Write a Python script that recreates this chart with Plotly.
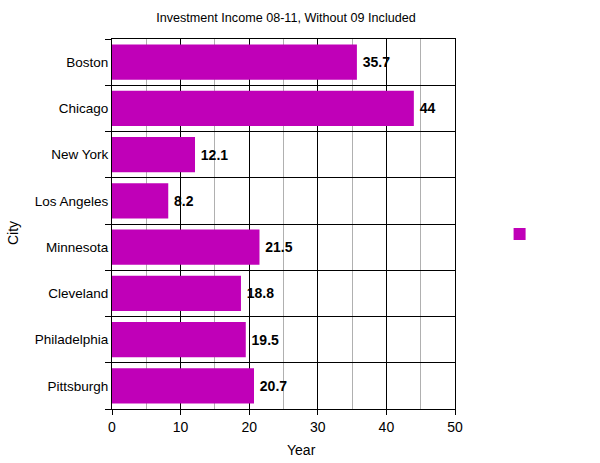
import plotly.graph_objects as go

cities = ["Boston", "Chicago", "New York", "Los Angeles", "Minnesota",
          "Cleveland", "Philadelphia", "Pittsburgh"]
values = [35.7, 44, 12.1, 8.2, 21.5, 18.8, 19.5, 20.7]
x_ticks = [0, 10, 20, 30, 40, 50]

FONT = "Liberation Sans, Arial, sans-serif"
COLOR = "#C000B8"

fig = go.Figure()
fig.add_trace(go.Bar(
    y=cities, x=values, orientation="h",
    marker=dict(color=COLOR, line=dict(width=0)),
    width=0.76,
    text=["\u2009" + f"{v:g}" for v in values],
    textposition="outside",
    textfont=dict(family=FONT, size=14, color="black", weight="bold"),
    cliponaxis=False,
    name=" ",
    showlegend=True,
))

fig.update_layout(
    width=600, height=463,
    margin=dict(l=112, r=145, t=39, b=54, autoexpand=False),
    paper_bgcolor="white", plot_bgcolor="white",
    font=dict(family=FONT, color="black", size=14),
    title=dict(text="Investment Income 08-11, Without 09 Included",
               x=286 / 600, xanchor="center",
               y=1 - 18 / 463, yanchor="middle",
               font=dict(size=12.6, family=FONT, color="black")),
    showlegend=True,
    legend=dict(x=1.13, y=0.473, xanchor="left", yanchor="middle",
                font=dict(size=12), bgcolor="rgba(0,0,0,0)"),
    annotations=[
        dict(text="Year", xref="paper", yref="paper",
             x=(301 - 112) / 343, y=(409 - 450) / 370,
             xanchor="center", yanchor="middle", showarrow=False,
             font=dict(size=14, family=FONT, color="black")),
        dict(text="City", xref="paper", yref="paper", textangle=-90,
             x=(13 - 112) / 343, y=(409 - 233) / 370,
             xanchor="center", yanchor="middle", showarrow=False,
             font=dict(size=14, family=FONT, color="black")),
    ],
)

fig.update_xaxes(
    range=[0, 50], tickvals=x_ticks, ticktext=[str(t) for t in x_ticks],
    showgrid=True, gridcolor="black", gridwidth=1,
    minor=dict(dtick=5, showgrid=True, gridcolor="#b0b0b0", gridwidth=1),
    showline=True, linecolor="black", linewidth=1, mirror=True,
    ticks="outside", ticklen=5, tickcolor="black",
    zeroline=False, automargin=False,
    tickfont=dict(size=14),
)
fig.update_yaxes(
    categoryorder="array", categoryarray=cities[::-1],
    tickson="boundaries",
    showgrid=True, gridcolor="black", gridwidth=1,
    showline=True, linecolor="black", linewidth=1, mirror=True,
    ticks="outside", ticklen=6, tickcolor="black",
    automargin=False,
    tickfont=dict(size=13.5),
)

fig.write_html("out.html",
               config={"displayModeBar": False},
               post_script="document.body.style.margin='0';document.body.style.overflow='hidden';")
